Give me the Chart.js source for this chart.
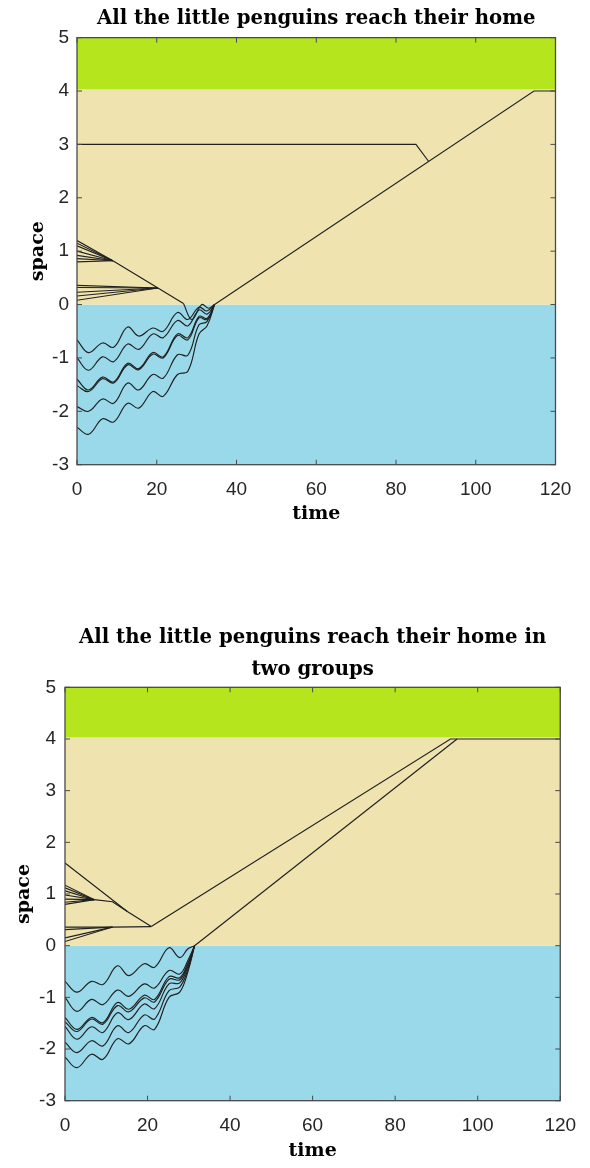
<!DOCTYPE html>
<html>
<head>
<meta charset="utf-8">
<script src="https://cdn.jsdelivr.net/npm/chart.js@4.4.1/dist/chart.umd.min.js"></script>
<style>
body { margin:0; background:#fff; width:590px; height:1168px; overflow:hidden; position:relative; }
.box { position:absolute; left:0; width:590px; }
#box1 { top:0; height:540px; }
#box2 { top:596px; height:572px; }
</style>
</head>
<body>
<div class="box" id="box1"><canvas id="chart1" width="590" height="540"></canvas></div>
<div class="box" id="box2"><canvas id="chart2" width="590" height="572"></canvas></div>
<script>
// ticks on both axes
const timeTicks = [0, 20, 40, 60, 80, 100, 120];
const spaceTicks = [-3, -2, -1, 0, 1, 2, 3, 4, 5];
// sea / beach / home zones (lower edge .. upper edge)
const zoneEdges = [-3, 0, 4.03, 5];
const zoneColors = ['#99d9ea', '#efe4b0', '#b5e61d'];

// ---------- first run: everybody together ----------
const lateOne1 = [[0, 3], [85, 3], [88.2, 2.68]];
const upperStarts1 = [1.2, 1.15, 1.1, 1.0, 0.92, 0.86, 0.8];
const upperJoin1 = [9, 0.82];
const lowerStarts1 = [0.36, 0.32, 0.23, 0.16, 0.08];
const lowerJoin1 = [20.3, 0.31];
const beachPath1 = [[9, 0.82], [20.3, 0.31], [26.7, 0.02]];
const surfPath1 = [[26.7, 0.02], [28.8, -0.28], [31.3, 0], [33, -0.07], [34.5, 0]];
const walkHome1 = [[34.5, 0], [114.6, 4], [120, 4]];
const swimTimes1 = [0, 2.9, 6.4, 9.2, 12.7, 15.5, 19, 21.6, 25.2, 27.8, 30.6, 32.6, 34.5];
const swimA1 = [-0.66, -0.9, -0.72, -0.8, -0.42, -0.59, -0.44, -0.5, -0.15, -0.28, -0.05, -0.12, 0];
const swimB1 = [-1.0, -1.23, -0.98, -1.07, -0.74, -0.84, -0.55, -0.62, -0.3, -0.4, -0.1, -0.18, 0];
const swimC1 = [-1.4, -1.6, -1.36, -1.45, -1.1, -1.2, -0.9, -0.98, -0.55, -0.62, -0.22, -0.26, 0];
const swimD1 = [-1.52, -1.63, -1.39, -1.47, -1.13, -1.22, -0.93, -1.0, -0.58, -0.66, -0.25, -0.28, 0];
const swimE1 = [-1.91, -2.0, -1.77, -1.85, -1.47, -1.6, -1.31, -1.38, -0.94, -0.95, -0.38, -0.32, 0];
const swimF1 = [-2.3, -2.43, -2.14, -2.2, -1.85, -1.94, -1.63, -1.72, -1.31, -1.25, -0.55, -0.4, 0];

// ---------- second run: two groups ----------
const leader2 = [[0, 1.6], [15.1, 0.66], [20.9, 0.37]];
const midStarts2 = [1.17, 1.12, 1.06, 0.98, 0.9, 0.84, 0.8];
const midJoin2 = [7.1, 0.89];
const midPath2 = [[7.1, 0.89], [11.5, 0.85], [15.1, 0.66]];
const lowStarts2 = [0.36, 0.31, 0.15, 0.08];
const lowJoin2 = [11.5, 0.36];
const lowPath2 = [[11.5, 0.36], [20.9, 0.37]];
const walkA2 = [[20.9, 0.37], [93.4, 4], [120, 4]];
const walkB2 = [[31.4, 0], [95, 4]];
const swimTimes2 = [0, 2.9, 6.4, 9.2, 12.7, 15.5, 19.2, 21.7, 25.2, 27.8, 29.8, 31.4];
const swimA2 = [-0.69, -0.9, -0.69, -0.75, -0.39, -0.58, -0.35, -0.42, -0.04, -0.23, -0.06, 0];
const swimB2 = [-1.0, -1.27, -1.04, -1.14, -0.86, -0.98, -0.74, -0.82, -0.48, -0.55, -0.28, 0];
const swimC2 = [-1.39, -1.62, -1.39, -1.49, -1.1, -1.23, -0.96, -1.04, -0.6, -0.62, -0.33, 0];
const swimD2 = [-1.47, -1.66, -1.42, -1.52, -1.16, -1.28, -1.01, -1.09, -0.65, -0.66, -0.36, 0];
const swimE2 = [-1.56, -1.81, -1.57, -1.68, -1.3, -1.43, -1.13, -1.22, -0.74, -0.72, -0.4, 0];
const swimF2 = [-1.87, -2.07, -1.84, -1.94, -1.55, -1.68, -1.34, -1.42, -0.87, -0.8, -0.45, 0];
const swimG2 = [-2.16, -2.36, -2.1, -2.2, -1.8, -1.9, -1.55, -1.62, -1.0, -0.9, -0.5, 0];

const serif = "'DejaVu Serif', serif";
const sans = "'Liberation Sans', Arial, sans-serif";
const ink = '#202020';

function path(pts, tension) {
  return { data: pts.map(p => ({ x: p[0], y: p[1] })), showLine: true, pointRadius: 0,
    borderColor: ink, borderWidth: 1.15, tension: tension || 0, fill: false };
}
function fan(starts, join) {
  return starts.map(s => path([[0, s], join]));
}
function swim(times, vals) {
  return path(times.map((t, i) => [t, vals[i]]), 0.4);
}

const zonePlugin = {
  id: 'zones',
  beforeDatasetsDraw(chart) {
    const { ctx, chartArea: a, scales: { y } } = chart;
    ctx.save();
    for (let i = 0; i < zoneColors.length; i++) {
      const lo = y.getPixelForValue(zoneEdges[i]);
      const hi = y.getPixelForValue(zoneEdges[i + 1]);
      ctx.fillStyle = zoneColors[i];
      ctx.fillRect(a.left, hi, a.right - a.left, lo - hi);
    }
    ctx.restore();
  }
};

const framePlugin = {
  id: 'frame',
  afterDatasetsDraw(chart) {
    const { ctx, chartArea: a, scales: { x, y } } = chart;
    ctx.save();
    ctx.strokeStyle = '#4a4a4a';
    ctx.lineWidth = 1;
    ctx.beginPath();
    timeTicks.forEach(v => {
      const px = x.getPixelForValue(v);
      ctx.moveTo(px, a.bottom); ctx.lineTo(px, a.bottom - 5);
      ctx.moveTo(px, a.top); ctx.lineTo(px, a.top + 5);
    });
    spaceTicks.forEach(v => {
      const py = y.getPixelForValue(v);
      ctx.moveTo(a.left, py); ctx.lineTo(a.left + 5, py);
      ctx.moveTo(a.right, py); ctx.lineTo(a.right - 5, py);
    });
    ctx.stroke();
    ctx.lineWidth = 1.3;
    ctx.strokeRect(a.left, a.top, a.right - a.left, a.bottom - a.top);
    ctx.restore();
  }
};

function makeChart(id, title, sets, lay) {
  return new Chart(document.getElementById(id), {
    type: 'scatter',
    data: { datasets: sets },
    options: {
      responsive: false, animation: false, devicePixelRatio: 1,
      layout: { padding: { left: 0, right: lay.right, top: 0, bottom: 0 } },
      plugins: {
        legend: { display: false },
        tooltip: { enabled: false },
        title: {
          display: true, text: title, fullSize: false, color: '#000',
          font: { family: serif, size: 19.7, weight: 'bold', lineHeight: lay.titleLH },
          padding: { top: lay.titleTop, bottom: lay.titleBottom }
        }
      },
      scales: {
        x: {
          type: 'linear', min: 0, max: 120,
          afterBuildTicks: s => { s.ticks = timeTicks.map(v => ({ value: v })); },
          afterFit: s => { s.height = lay.xh; },
          grid: { display: false, drawTicks: false },
          border: { display: false },
          ticks: { padding: 13.9, color: '#262626', font: { family: sans, size: 19 }, maxRotation: 0, autoSkip: false },
          title: { display: true, text: 'time', color: '#000',
            font: { family: serif, size: 19, weight: 'bold' }, padding: { top: 0, bottom: lay.xTitle } }
        },
        y: {
          type: 'linear', min: -3, max: 5,
          afterBuildTicks: s => { s.ticks = spaceTicks.map(v => ({ value: v })); },
          afterFit: s => { s.width = lay.yw; },
          grid: { display: false, drawTicks: false },
          border: { display: false },
          ticks: { padding: lay.yPad, color: '#262626', font: { family: sans, size: 19 }, autoSkip: false },
          title: { display: true, text: 'space', color: '#000',
            font: { family: serif, size: 19, weight: 'bold' }, padding: { top: lay.yTitle, bottom: 0 } }
        }
      }
    },
    plugins: [zonePlugin, framePlugin]
  });
}

const sets1 = [].concat(
  [swim(swimTimes1, swimA1), swim(swimTimes1, swimB1), swim(swimTimes1, swimC1),
   swim(swimTimes1, swimD1), swim(swimTimes1, swimE1), swim(swimTimes1, swimF1)],
  fan(upperStarts1, upperJoin1),
  fan(lowerStarts1, lowerJoin1),
  [path(beachPath1), path(surfPath1, 0.4), path(walkHome1), path(lateOne1)]
);

const sets2 = [].concat(
  [swim(swimTimes2, swimA2), swim(swimTimes2, swimB2), swim(swimTimes2, swimC2),
   swim(swimTimes2, swimD2), swim(swimTimes2, swimE2), swim(swimTimes2, swimF2),
   swim(swimTimes2, swimG2)],
  fan(midStarts2, midJoin2),
  fan(lowStarts2, lowJoin2),
  [path(leader2), path(midPath2), path(lowPath2), path(walkA2), path(walkB2)]
);

makeChart('chart1', 'All the little penguins reach their home', sets1,
  { right: 34.5, titleLH: 1.2, titleTop: 7.2, titleBottom: 6.8, xh: 75.3, xTitle: 14.6, yw: 77, yPad: 8, yTitle: 26.6 });

makeChart('chart2', ['All the little penguins reach their home in', 'two groups'], sets2,
  { right: 21.7, titleLH: 32 / 19.7, titleTop: 26, titleBottom: 1.3, xh: 67.3, xTitle: 5.6, yw: 65, yPad: 9, yTitle: 12.6 });
</script>
</body>
</html>
